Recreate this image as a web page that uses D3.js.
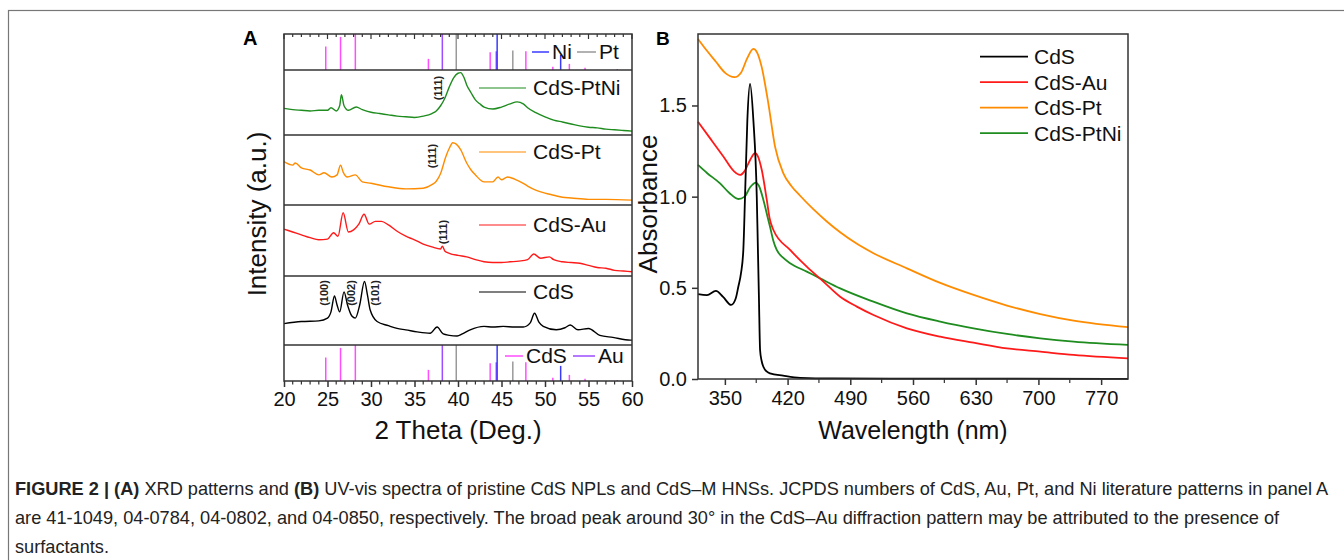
<!DOCTYPE html>
<html>
<head>
<meta charset="utf-8">
<script src="https://cdn.jsdelivr.net/npm/d3@7"></script>
<style>
  body { margin: 0; background: #fff; }
  svg { font-family: "Liberation Sans", Arial, sans-serif; }
</style>
</head>
<body>
<svg></svg>
<script>
// ---- panel A: XRD (2 theta in degrees, intensity in a.u. 0-100 per trace) ----
var xrdPtNi = [[20,41],[21,39],[22,38],[23,37],[24,38],[25,38],[25.4,42],[26,37],[26.4,45],[26.6,62],[26.9,45],[27.4,38],[28.3,43],[29,39],[30,35],[31,33],[32,31],[33,29],[34,28],[35,27],[36,29],[37,33],[37.5,37],[38,45],[38.5,57],[39,74],[39.5,88],[40,95],[40.3,96],[40.7,88],[41,77],[41.5,65],[42,54],[42.5,48],[43,43],[44,40],[45,43],[46,48],[46.8,51],[47.5,48],[48,42],[49,34],[50,28],[51,23],[52,20],[53,17],[54,14],[55,12],[56,11],[57,9],[58,8],[59,7],[60,6]];
var xrdPt = [[20,62],[21,57],[21.3,60],[22,53],[23,50],[24,43],[24.6,46],[25.5,40],[26.1,43],[26.5,57],[26.8,47],[27.3,40],[28.2,43],[29,33],[30,31],[32,26],[34,23],[36,24],[37,29],[37.5,34],[38,45],[38.6,69],[39,81],[39.4,89],[39.8,87],[40.3,79],[41,60],[41.5,50],[42,43],[43,33],[44,33],[44.6,40],[45,36],[45.7,40],[46.5,37],[47.5,31],[48,27],[49,21],[50,17],[51,14],[52,11],[53,10],[55,8],[57,8],[60,7]];
var xrdAu = [[20,66],[21,62],[22,58],[23,54],[24,51],[25,52],[25.7,61],[26.2,56],[26.8,89],[27.4,62],[28,65],[28.6,73],[29.2,87],[29.8,73],[30.5,77],[31.2,77],[32,72],[33,63],[34,56],[35,51],[36,45],[37,41],[38,38],[38.2,42],[38.5,35],[39,32],[40,29],[41,27],[42,23],[43,20],[44,19],[45,19],[46,20],[47,21],[48,23],[48.7,31],[49.5,25],[50.5,27],[51,23],[52,20],[53,19],[54,18],[55,15],[56,12],[57,11],[58,8],[59,7],[60,6]];
var xrdCdS = [[20,31],[22,34],[24,35],[25,39],[25.4,48],[25.8,71],[26.1,58],[26.4,48],[26.9,77],[27.3,58],[27.8,42],[28.2,39],[28.7,58],[29.25,92],[29.6,72],[29.9,51],[30.7,34],[32,28],[33,24],[34,22],[35.3,19],[36.8,17],[37.6,26],[38.3,16],[39,14],[39.9,13],[40.5,16],[41.4,22],[43,27],[44,26],[45.2,27],[46.5,26],[47.5,26],[48.3,32],[48.8,46],[49.3,33],[49.8,27],[51.3,22],[52.3,25],[52.9,29],[53.8,22],[55,24],[56.3,14],[57.8,11],[59.8,7],[60,7]];

// reference stick patterns (JCPDS), position in degrees, relative intensity
var cdsRefPos = [24.8, 26.5, 28.2, 36.6, 43.7, 47.8, 50.9, 52.8, 54.6, 58.3];
var cdsRefInt = [65, 92, 100, 31, 49, 52, 9, 17, 6, 3];
var auRefPos = [38.2, 44.4];
var auRefInt = [100, 52];
var ptRefPos = [39.8, 46.3];
var ptRefInt = [100, 54];
var niRefPos = [44.5, 51.8];
var niRefInt = [100, 42];

var xrdTicks = [20, 25, 30, 35, 40, 45, 50, 55, 60];

// ---- panel B: UV-vis (wavelength nm, absorbance) ----
var uvCdS = [[320,0.465],[330,0.46],[340,0.483],[348,0.45],[357,0.406],[362,0.44],[365,0.506],[368,0.58],[370.6,0.708],[372.5,1.0],[375.1,1.42],[378.1,1.618],[381.8,1.42],[385.6,1.0],[386.5,0.8],[388,0.45],[389.3,0.159],[391,0.1],[393,0.067],[397,0.04],[400.4,0.031],[415,0.018],[434,0.006],[470,0.003],[600,0.002],[800,0.001]];
var uvAu = [[320,1.411],[335,1.31],[348.3,1.22],[360,1.14],[366.9,1.119],[372,1.14],[378,1.2],[383.7,1.238],[387,1.22],[391.2,1.146],[396.8,0.982],[400,0.88],[404.2,0.817],[422.8,0.708],[441.4,0.616],[460,0.534],[478.7,0.451],[497.3,0.397],[515.9,0.351],[553.2,0.278],[590.4,0.232],[627.6,0.199],[664.9,0.168],[702.1,0.15],[739.3,0.132],[800,0.113]];
var uvPt = [[320,1.865],[330,1.8],[340,1.74],[350,1.68],[360.6,1.655],[368,1.68],[375,1.76],[381.8,1.81],[386,1.79],[391,1.713],[398.5,1.512],[406,1.274],[415.3,1.128],[424,1.06],[434,1.005],[449,0.93],[463.8,0.864],[478.7,0.805],[497,0.743],[515.9,0.69],[553.2,0.607],[590.4,0.527],[627.6,0.461],[664.9,0.403],[702.1,0.356],[739.3,0.32],[800,0.284]];
var uvPtNi = [[320,1.174],[330,1.13],[344.6,1.073],[355,1.02],[365,0.987],[372,1.0],[378,1.05],[384.8,1.077],[388,1.06],[393,0.982],[398.5,0.872],[400.4,0.835],[404,0.76],[407.9,0.708],[415,0.665],[422.8,0.635],[441.4,0.589],[456.3,0.552],[478.7,0.497],[515.9,0.424],[553.2,0.36],[590.4,0.315],[627.6,0.278],[664.9,0.247],[702.1,0.223],[739.3,0.205],[800,0.187]];

var uvNames = ["CdS", "CdS-Au", "CdS-Pt", "CdS-PtNi"];
var uvTicksX = [350, 420, 490, 560, 630, 700, 770];
var uvTicksY = [0, 0.5, 1.0, 1.5];

var caption = [
  [["FIGURE 2 | (A)", true], [" XRD patterns and ", false], ["(B)", true], [" UV-vis spectra of pristine CdS NPLs and CdS\u2013M HNSs. JCPDS numbers of CdS, Au, Pt, and Ni literature patterns in panel A", false]],
  [["are 41-1049, 04-0784, 04-0802, and 04-0850, respectively. The broad peak around 30\u00b0 in the CdS\u2013Au diffraction pattern may be attributed to the presence of", false]],
  [["surfactants.", false]]
];

document.addEventListener("DOMContentLoaded", function() {

  var width = 1344;
  var height = 560;
  var axisColor = "#333";

  var svg = d3.select("svg")
      .attr("width", width)
      .attr("height", height);

  // outer frame
  svg.append("rect")
      .attr("x", 8.5).attr("y", 10.5)
      .attr("width", 1400).attr("height", 600)
      .attr("fill", "none")
      .attr("stroke", "#777")
      .attr("stroke-width", 1.2);

  // ================= panel A =================
  var ax0 = 284, ax1 = 632;
  var xA = d3.scaleLinear().domain([20, 60]).range([ax0, ax1]);

  var refTop = {top: 34, bottom: 70};
  var refBot = {top: 345, bottom: 381};
  var samples = [
    {data: xrdPtNi, name: "CdS-PtNi", color: "#1e8c1e", top: 70, bottom: 135, ly: 88},
    {data: xrdPt, name: "CdS-Pt", color: "#ff8c00", top: 135, bottom: 205, ly: 152},
    {data: xrdAu, name: "CdS-Au", color: "#ff1a1a", top: 205, bottom: 276, ly: 225},
    {data: xrdCdS, name: "CdS", color: "#000", top: 276, bottom: 345, ly: 292}
  ];

  var gA = svg.append("g");

  function drawSticks(panel) {
    var yR = d3.scaleLinear().domain([0, 100]).range([panel.bottom, panel.top]);
    var sets = [
      {pos: cdsRefPos, val: cdsRefInt, color: "#ff4dff"},
      {pos: auRefPos, val: auRefInt, color: "#9b4dff"},
      {pos: ptRefPos, val: ptRefInt, color: "#999"},
      {pos: niRefPos, val: niRefInt, color: "#3a3aff"}
    ];
    sets.forEach(function(s) {
      gA.selectAll(null)
        .data(s.pos)
        .enter()
        .append("line")
          .attr("x1", d => xA(d))
          .attr("x2", d => xA(d))
          .attr("y1", yR(0))
          .attr("y2", (d, i) => yR(s.val[i]))
          .attr("stroke", s.color)
          .attr("stroke-width", 1.5);
    });
  }
  drawSticks(refTop);
  drawSticks(refBot);

  var lineA = d3.line().curve(d3.curveMonotoneX);

  samples.forEach(function(s) {
    var yS = d3.scaleLinear().domain([0, 100]).range([s.bottom, s.top]);
    gA.append("path")
        .datum(s.data)
        .attr("fill", "none")
        .attr("stroke", s.color)
        .attr("stroke-width", 1.4)
        .attr("d", lineA.x(d => xA(d[0])).y(d => yS(d[1])));

    gA.append("line")
        .attr("x1", 479).attr("x2", 526)
        .attr("y1", s.ly).attr("y2", s.ly)
        .attr("stroke", s.color)
        .attr("stroke-width", 1.2);
    gA.append("text")
        .attr("x", 533).attr("y", s.ly)
        .attr("dy", "0.35em")
        .style("font-size", "21px")
        .attr("fill", "#111")
        .text(s.name);
  });

  // panel frame and dividers
  gA.append("rect")
      .attr("x", ax0).attr("y", refTop.top)
      .attr("width", ax1 - ax0).attr("height", refBot.bottom - refTop.top)
      .attr("fill", "none").attr("stroke", axisColor).attr("stroke-width", 1.5);
  [70, 135, 205, 276, 345].forEach(function(y) {
    gA.append("line")
        .attr("x1", ax0).attr("x2", ax1)
        .attr("y1", y).attr("y2", y)
        .attr("stroke", axisColor).attr("stroke-width", 1.5);
  });

  // bottom axis
  var xAxisA = d3.axisBottom(xA)
      .tickValues(xrdTicks)
      .tickSize(6)
      .tickPadding(5)
      .tickFormat(d3.format("d"));
  var bottomAxis = gA.append("g")
      .attr("transform", "translate(0," + refBot.bottom + ")")
      .call(xAxisA);
  bottomAxis.select(".domain").remove();
  bottomAxis.selectAll("line").attr("stroke", axisColor).attr("stroke-width", 1.5);
  bottomAxis.selectAll("text").style("font-size", "20px").attr("fill", "#111");
  bottomAxis.selectAll(".minor")
      .data(d3.range(20, 61).filter(d => d % 5 !== 0))
      .enter()
      .append("line")
        .attr("x1", d => xA(d)).attr("x2", d => xA(d))
        .attr("y1", 0).attr("y2", 3.5)
        .attr("stroke", axisColor).attr("stroke-width", 1.2);

  // top inward ticks
  gA.selectAll(".topTick")
    .data(d3.range(20, 61))
    .enter()
    .append("line")
      .attr("x1", d => xA(d)).attr("x2", d => xA(d))
      .attr("y1", refTop.top)
      .attr("y2", d => refTop.top + (d % 5 === 0 ? 5 : 3))
      .attr("stroke", axisColor).attr("stroke-width", 1.2);

  // reference legends
  function refLegend(y, items) {
    items.forEach(function(it) {
      gA.append("line")
          .attr("x1", it[0]).attr("x2", it[1])
          .attr("y1", y).attr("y2", y)
          .attr("stroke", it[3]).attr("stroke-width", 1.5);
      gA.append("text")
          .attr("x", it[1] + 3).attr("y", y)
          .attr("dy", "0.35em")
          .style("font-size", "21px")
          .attr("fill", "#111")
          .text(it[2]);
    });
  }
  refLegend(52, [[532, 549, "Ni", "#3a3aff"], [577, 596, "Pt", "#999"]]);
  refLegend(356, [[505, 523, "CdS", "#ff4dff"], [573, 595, "Au", "#9b4dff"]]);

  // hkl annotations
  var hkl = [
    {deg: 37.7, y: 88, t: "(111)"},
    {deg: 37.0, y: 156, t: "(111)"},
    {deg: 38.25, y: 232, t: "(111)"},
    {deg: 24.6, y: 293, t: "(100)"},
    {deg: 27.7, y: 293, t: "(002)"},
    {deg: 30.5, y: 293, t: "(101)"}
  ];
  gA.selectAll(".hkl")
    .data(hkl)
    .enter()
    .append("text")
      .attr("transform", d => "translate(" + xA(d.deg) + "," + d.y + ") rotate(-90)")
      .attr("text-anchor", "middle")
      .attr("dy", "0.35em")
      .style("font-size", "11px")
      .style("font-weight", "bold")
      .attr("fill", "#222")
      .text(d => d.t);

  gA.append("text")
      .attr("x", 243).attr("y", 45)
      .style("font-size", "20px").style("font-weight", "bold")
      .text("A");

  gA.append("text")
      .attr("transform", "translate(266,214) rotate(-90)")
      .attr("text-anchor", "middle")
      .style("font-size", "26px")
      .attr("fill", "#111")
      .text("Intensity (a.u.)");

  gA.append("text")
      .attr("x", (ax0 + ax1) / 2).attr("y", 439)
      .attr("text-anchor", "middle")
      .style("font-size", "26px")
      .attr("fill", "#111")
      .text("2 Theta (Deg.)");

  // ================= panel B =================
  var bx0 = 698, bx1 = 1128, by0 = 379, by1 = 34;
  var xB = d3.scaleLinear().domain([320, 800]).range([bx0, bx1]);
  var yB = d3.scaleLinear().domain([0, 1.892]).range([by0, by1]);
  var uvSeries = [uvCdS, uvAu, uvPt, uvPtNi];
  var uvColors = ["#000", "#ff1a1a", "#ff8c00", "#1e8c1e"];

  var gB = svg.append("g");

  var lineB = d3.line()
      .curve(d3.curveMonotoneX)
      .x(d => xB(d[0]))
      .y(d => yB(d[1]));

  [2, 3, 1, 0].forEach(function(i) {
    gB.append("path")
        .datum(uvSeries[i])
        .attr("fill", "none")
        .attr("stroke", uvColors[i])
        .attr("stroke-width", 1.8)
        .attr("d", lineB);
  });

  gB.append("rect")
      .attr("x", bx0).attr("y", by1)
      .attr("width", bx1 - bx0).attr("height", by0 - by1)
      .attr("fill", "none").attr("stroke", axisColor).attr("stroke-width", 1.5);

  var xAxisB = d3.axisBottom(xB)
      .tickValues(uvTicksX)
      .tickSize(6)
      .tickPadding(6)
      .tickFormat(d3.format("d"));
  var gxB = gB.append("g")
      .attr("transform", "translate(0," + by0 + ")")
      .call(xAxisB);
  gxB.select(".domain").remove();
  gxB.selectAll("line").attr("stroke", axisColor).attr("stroke-width", 1.5);
  gxB.selectAll("text").style("font-size", "20px").attr("fill", "#111");
  gxB.selectAll(".minor")
    .data(d3.range(385, 800, 70))
    .enter()
    .append("line")
      .attr("x1", d => xB(d)).attr("x2", d => xB(d))
      .attr("y1", 0).attr("y2", 4)
      .attr("stroke", axisColor).attr("stroke-width", 1.2);

  var yAxisB = d3.axisLeft(yB)
      .tickValues(uvTicksY)
      .tickSize(6)
      .tickPadding(5)
      .tickFormat(d3.format(".1f"));
  var gyB = gB.append("g")
      .attr("transform", "translate(" + bx0 + ",0)")
      .call(yAxisB);
  gyB.select(".domain").remove();
  gyB.selectAll("line").attr("stroke", axisColor).attr("stroke-width", 1.5);
  gyB.selectAll("text").style("font-size", "20px").attr("fill", "#111");

  // legend
  uvNames.forEach(function(n, i) {
    var y = 56.7 + i * 25.5;
    gB.append("line")
        .attr("x1", 980).attr("x2", 1028)
        .attr("y1", y).attr("y2", y)
        .attr("stroke", uvColors[i]).attr("stroke-width", 1.8);
    gB.append("text")
        .attr("x", 1034).attr("y", y)
        .attr("dy", "0.35em")
        .style("font-size", "21px")
        .attr("fill", "#111")
        .text(n);
  });

  gB.append("text")
      .attr("x", 656).attr("y", 45)
      .style("font-size", "19px").style("font-weight", "bold")
      .text("B");

  gB.append("text")
      .attr("transform", "translate(657,204) rotate(-90)")
      .attr("text-anchor", "middle")
      .style("font-size", "26px")
      .attr("fill", "#111")
      .text("Absorbance");

  gB.append("text")
      .attr("x", 913).attr("y", 439)
      .attr("text-anchor", "middle")
      .style("font-size", "25px")
      .attr("fill", "#111")
      .text("Wavelength (nm)");

  // ================= caption =================
  caption.forEach(function(parts, i) {
    var t = svg.append("text")
        .attr("x", 15)
        .attr("y", 494.5 + i * 29)
        .style("font-size", "18.2px")
        .attr("fill", "#222");
    parts.forEach(function(p) {
      t.append("tspan")
          .style("font-weight", p[1] ? "bold" : "normal")
          .text(p[0]);
    });
  });
});
</script>
</body>
</html>
